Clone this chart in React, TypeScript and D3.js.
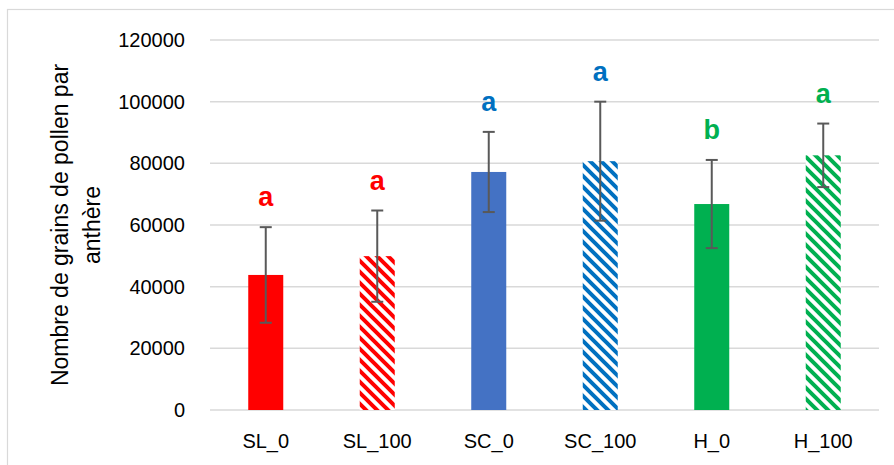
import React from "react";
import * as d3 from "d3";

// Pollen grains per anther, by treatment
const categories = ["SL_0", "SL_100", "SC_0", "SC_100", "H_0", "H_100"];
const means = [43800, 49900, 77200, 80700, 66800, 82600];
const errors = [15500, 14800, 13000, 19300, 14300, 10300];
const letters = ["a", "a", "a", "a", "b", "a"];
const yTicks = [0, 20000, 40000, 60000, 80000, 100000, 120000];

// Group colours; "_100" treatments are drawn hatched
const fills = ["#FF0000", "red-hatch", "#4472C4", "blue-hatch", "#00B050", "green-hatch"];
const letterColors = ["#FF0000", "#FF0000", "#0070C0", "#0070C0", "#00B050", "#00B050"];
const hatches = [
  { id: "red-hatch", color: "#FF0000" },
  { id: "blue-hatch", color: "#0070C0" },
  { id: "green-hatch", color: "#00B050" },
];

const W = 894;
const H = 465;
const margin = { left: 210, right: 15, top: 40, bottom: 55 };
const FONT = "'Liberation Sans', Arial, sans-serif";

export default function App() {
  const x = d3
    .scaleBand<string>()
    .domain(categories)
    .range([margin.left, W - margin.right])
    .paddingInner(0.686)
    .paddingOuter(0.343);
  const y = d3
    .scaleLinear()
    .domain([0, 120000])
    .range([H - margin.bottom, margin.top]);

  const bw = x.bandwidth();
  const P = 11;

  return (
    <div style={{ position: "absolute", left: 0, top: 0 }}>
      <svg width={W} height={H} style={{ display: "block", fontFamily: FONT }}>
        <defs>
          {hatches.map((h) => (
            <pattern
              key={h.id}
              id={h.id}
              patternUnits="userSpaceOnUse"
              width={P}
              height={P}
            >
              <rect width={P} height={P} fill="#fff" />
              <path
                d={`M-2,-2 L${P + 2},${P + 2} M-2,${P - 2} L2,${P + 2} M${P - 2},-2 L${P + 2},2`}
                stroke={h.color}
                strokeWidth={4}
              />
            </pattern>
          ))}
        </defs>

        <rect width={W} height={H} fill="#fff" />
        {/* chart frame */}
        <rect x={7.5} y={9.5} width={W} height={H} fill="none" stroke="#d9d9d9" strokeWidth={1.2} />

        {/* gridlines and y tick labels */}
        {yTicks.map((t) => (
          <g key={t}>
            <line
              x1={margin.left}
              x2={W - margin.right}
              y1={y(t)}
              y2={y(t)}
              stroke="#d9d9d9"
              strokeWidth={1.5}
            />
            <text
              x={185}
              y={y(t)}
              dy="0.35em"
              textAnchor="end"
              fontSize={20}
              fill="#000"
            >
              {t}
            </text>
          </g>
        ))}

        {/* bars */}
        {categories.map((c, i) => (
          <rect
            key={c}
            x={x(c)}
            y={y(means[i])}
            width={bw}
            height={y(0) - y(means[i])}
            fill={fills[i].startsWith("#") ? fills[i] : `url(#${fills[i]})`}
          />
        ))}

        {/* error bars */}
        {categories.map((c, i) => {
          const cx = (x(c) as number) + bw / 2;
          const yt = y(means[i] + errors[i]);
          const yb = y(means[i] - errors[i]);
          return (
            <g key={c} stroke="#595959" strokeWidth={2}>
              <line x1={cx} x2={cx} y1={yt} y2={yb} />
              <line x1={cx - 6} x2={cx + 6} y1={yt} y2={yt} />
              <line x1={cx - 6} x2={cx + 6} y1={yb} y2={yb} />
            </g>
          );
        })}

        {/* significance letters */}
        {categories.map((c, i) => (
          <text
            key={c}
            x={(x(c) as number) + bw / 2}
            y={y(means[i] + errors[i]) - 21}
            textAnchor="middle"
            fontSize={27}
            fontWeight="bold"
            fill={letterColors[i]}
          >
            {letters[i]}
          </text>
        ))}

        {/* category labels */}
        {categories.map((c) => (
          <text
            key={c}
            x={(x(c) as number) + bw / 2}
            y={448}
            textAnchor="middle"
            fontSize={20}
            fill="#000"
          >
            {c}
          </text>
        ))}

        {/* y axis title */}
        <g transform={`translate(68,${(y(0) + y(120000)) / 2}) rotate(-90)`}>
          <text textAnchor="middle" fontSize={23} fill="#000">
            Nombre de grains de pollen par
          </text>
          <text textAnchor="middle" y={32} fontSize={23} fill="#000">
            anthère
          </text>
        </g>
      </svg>
    </div>
  );
}
